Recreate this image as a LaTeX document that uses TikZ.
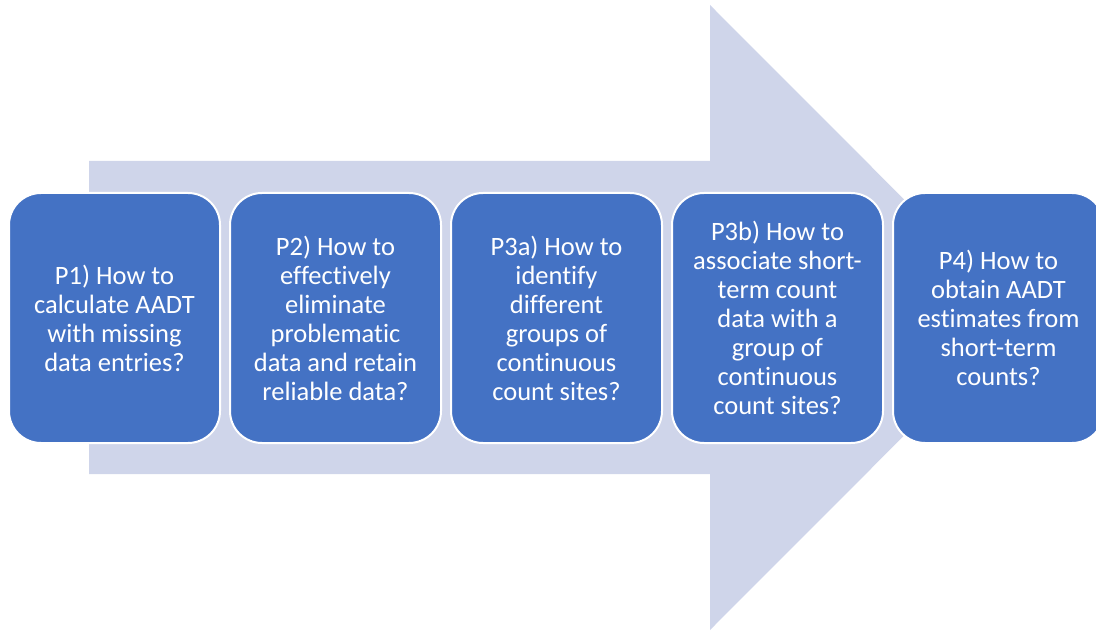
\documentclass[tikz,border=0pt]{standalone}
\usepackage{fontspec}
\setmainfont{Carlito}[Ligatures=NoCommon]
\definecolor{boxblue}{HTML}{4472C4}
\definecolor{arrowfill}{HTML}{CFD5EA}
\begin{document}
\begin{tikzpicture}[x=1pt,y=-1pt,
  qbox/.style={draw=white, line width=2pt, fill=boxblue, rounded corners=32pt,
    minimum width=211pt, minimum height=250pt, inner sep=0pt, anchor=north west,
    text=white, align=center, font=\fontsize{26.5}{29}\selectfont}]
\useasboundingbox (0,0) rectangle (1096,631);
\clip (0,0) rectangle (1096,631);
\fill[arrowfill] (89,161) -- (710,161) -- (710,5) -- (1022,317.5) -- (710,630) -- (710,474) -- (89,474) -- cycle;
\node[qbox] (p1) at (8,192) {P1) How to\\calculate AADT\\with missing\\data entries?};
\node[qbox] (p2) at (229,192) {P2) How to\\effectively\\eliminate\\problematic\\data and retain\\reliable data?};
\node[qbox] (p3a) at (450,192) {P3a) How to\\identify\\different\\groups of\\continuous\\count sites?};
\node[qbox] (p3b) at (671,192) {P3b) How to\\associate short-\\term count\\data with a\\group of\\continuous\\count sites?};
\node[qbox] (p4) at (892,192) {P4) How to\\obtain AADT\\estimates from\\short-term\\counts?};
\end{tikzpicture}
\end{document}
